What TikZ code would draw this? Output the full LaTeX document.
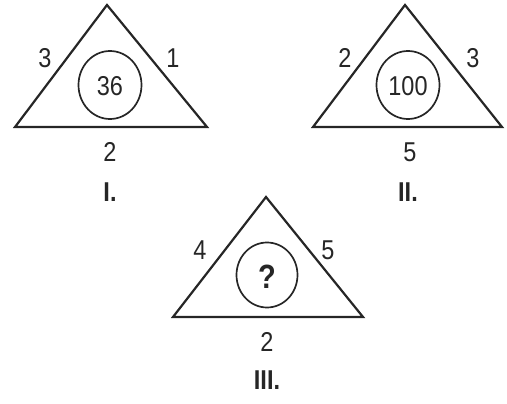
\documentclass[tikz,border=0pt]{standalone}
\usepackage{fontspec}
\setmainfont{Liberation Sans}
\usepackage{graphicx}
\newcommand{\stt}[1]{\scalebox{1}[1.16]{#1}}
\begin{document}
\begin{tikzpicture}[x=1pt,y=-1pt,
  tri/.style={draw=black!85,line width=2.2pt,line join=miter},
  ell/.style={draw=black!85,line width=1.7pt},
  lbl/.style={font=\fontsize{23.5}{25}\selectfont,text=black!85,inner sep=0pt},
  num/.style={font=\fontsize{23.5}{25}\bfseries\selectfont,text=black!85,inner sep=0pt}]
\useasboundingbox (0,0) rectangle (507,404);
% Triangle I
\coordinate (a1) at (107,5);
\coordinate (b1) at (15,127);
\coordinate (c1) at (207,127);
\draw[tri] (a1) -- (b1) -- (c1) -- cycle;
\draw[ell] (110,85) ellipse (31.5 and 34);
\node[lbl] (v1) at (110,86) {\stt{36}};
\node[lbl] (l1) at (45,58) {\stt{3}};
\node[lbl] (r1) at (173,58) {\stt{1}};
\node[lbl] (d1) at (110,152) {\stt{2}};
\node[num] (n1) at (110,192) {\stt{I.}};
% Triangle II
\coordinate (a2) at (405,5);
\coordinate (b2) at (313,127);
\coordinate (c2) at (502,127);
\draw[tri] (a2) -- (b2) -- (c2) -- cycle;
\draw[ell] (408,85) ellipse (31.5 and 34);
\node[lbl] (v2) at (408,86) {\stt{100}};
\node[lbl] (l2) at (345,58) {\stt{2}};
\node[lbl] (r2) at (473,58) {\stt{3}};
\node[lbl] (d2) at (410,152) {\stt{5}};
\node[num] (n2) at (408,192) {\stt{II.}};
% Triangle III
\coordinate (a3) at (266,197);
\coordinate (b3) at (173,317);
\coordinate (c3) at (363,317);
\draw[tri] (a3) -- (b3) -- (c3) -- cycle;
\draw[ell] (267,275) ellipse (30.5 and 32.5);
\node[num,font=\fontsize{29}{31}\bfseries\selectfont] (v3) at (267,277) {\stt{?}};
\node[lbl] (l3) at (200,250) {\stt{4}};
\node[lbl] (r3) at (328,250) {\stt{5}};
\node[lbl] (d3) at (267,342) {\stt{2}};
\node[num] (n3) at (267,380) {\stt{III.}};
\end{tikzpicture}
\end{document}
